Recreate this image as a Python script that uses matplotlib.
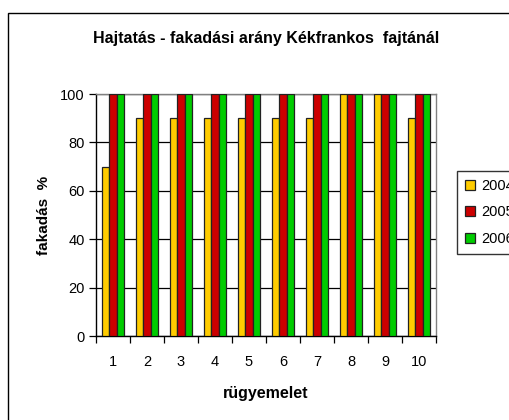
import matplotlib
matplotlib.use("Agg")
import matplotlib.pyplot as plt
import numpy as np
from matplotlib.patches import Rectangle

plt.rcParams['font.family'] = ['Liberation Sans', 'DejaVu Sans']

categories = ['1', '2', '3', '4', '5', '6', '7', '8', '9', '10']
series_names = ['2004', '2005', '2006']
values_2004 = [70, 90, 90, 90, 90, 90, 90, 100, 100, 90]
values_2005 = [100, 100, 100, 100, 100, 100, 100, 100, 100, 100]
values_2006 = [100, 100, 100, 100, 100, 100, 100, 100, 100, 100]
colors = ['#FFCC00', '#CC0000', '#00CC00']
yticks = [0, 20, 40, 60, 80, 100]

fig = plt.figure(figsize=(5.09, 4.20), dpi=100)
fig.patch.set_facecolor('white')

# outer chart frame (extends past the right/bottom edge)
frame = Rectangle((8 / 509, -0.05), 1.1, 0.969 + 0.05, transform=fig.transFigure,
                  fill=False, edgecolor='black', linewidth=1.0, clip_on=False)
fig.patches.append(frame)

ax = fig.add_axes([96 / 509, 84 / 420, 340 / 509, 242 / 420])

x = np.arange(len(categories))
w = 0.215
for i, (vals, name, col) in enumerate(zip([values_2004, values_2005, values_2006], series_names, colors)):
    ax.bar(x + (i - 1) * w, vals, width=w, color=col, edgecolor='#222222', linewidth=0.9,
           label=name, zorder=3)

ax.set_xlim(-0.5, len(categories) - 0.5)
ax.set_ylim(0, 100)
ax.set_yticks(yticks)
ax.set_yticklabels([str(t) for t in yticks], fontsize=10.5)
ax.yaxis.grid(True, color='black', linewidth=0.9, zorder=0)
ax.set_axisbelow(True)

ax.set_xticks(x)
ax.set_xticklabels(categories, fontsize=10.5)
ax.set_xticks(np.arange(-0.5, len(categories)), minor=True)
ax.tick_params(axis='x', which='major', length=0, pad=14)
ax.tick_params(axis='x', which='minor', length=5, width=0.9, color='black', direction='out')
ax.tick_params(axis='y', length=5, width=0.9, direction='out', pad=3)

for side in ['top', 'right']:
    ax.spines[side].set_color('#808080')
    ax.spines[side].set_linewidth(1.0)
for side in ['left', 'bottom']:
    ax.spines[side].set_color('black')
    ax.spines[side].set_linewidth(1.0)

ax.set_xlabel('rügyemelet', fontsize=11.5, fontweight='bold', labelpad=12)
ax.set_ylabel('fakadás  %', fontsize=11, fontweight='bold', labelpad=7)

fig.text(266 / 509, 1 - 38 / 420, 'Hajtatás - fakadási arány Kékfrankos  fajtánál',
         ha='center', va='center', fontsize=11.5, fontweight='bold')

leg = fig.legend(loc='upper left', bbox_to_anchor=(457 / 509, 1 - 171 / 420),
                 frameon=True, fancybox=False, fontsize=10.5, handlelength=0.65,
                 handleheight=0.65, handletextpad=0.45, labelspacing=0.85,
                 borderpad=0.55, borderaxespad=0)
leg.get_frame().set_edgecolor('black')
leg.get_frame().set_linewidth(1.0)

fig.savefig('out.png', dpi=100)
